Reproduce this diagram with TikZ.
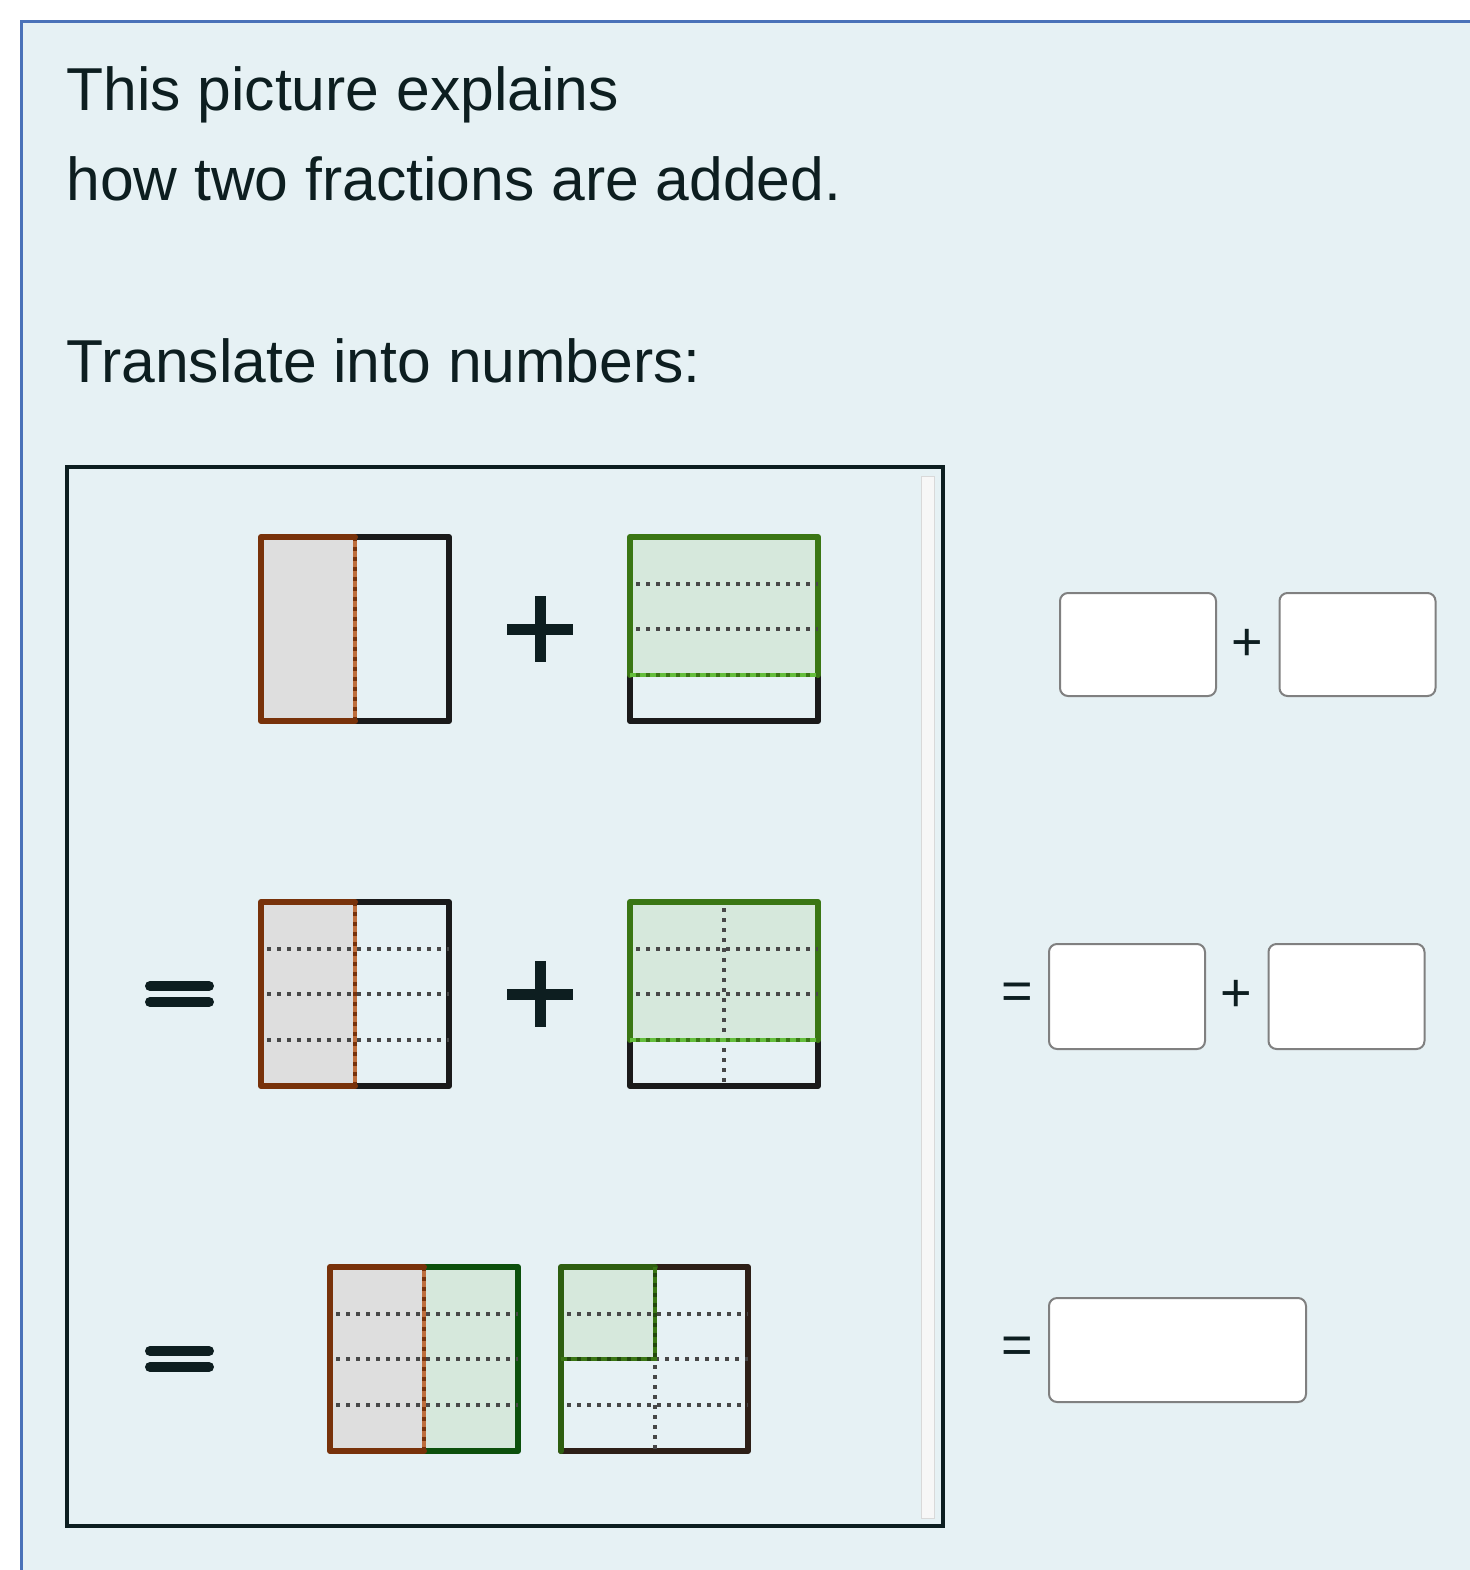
\documentclass[tikz,border=0pt]{standalone}
\usepackage{fontspec}
\setmainfont{Liberation Sans}
\definecolor{panel}{RGB}{230,241,244}
\definecolor{frameblue}{RGB}{74,114,184}
\definecolor{ink}{RGB}{13,30,32}
\definecolor{brownb}{RGB}{120,50,10}
\definecolor{brownl}{RGB}{190,110,60}
\definecolor{greenb}{RGB}{58,118,20}
\definecolor{greend}{RGB}{12,80,12}
\definecolor{greenl}{RGB}{100,190,60}
\definecolor{grayfill}{RGB}{222,222,222}
\definecolor{greenfill}{RGB}{214,232,220}
\definecolor{darkb}{RGB}{26,26,26}
\definecolor{boxgray}{RGB}{128,128,128}
\tikzset{
  edge/.style={line width=3pt, line join=round, line cap=round},
  dotline/.style={draw=black!72, line width=2pt, dash pattern=on 2pt off 3pt},
  plusbar/.style={line width=5.5pt, ink},
  eqbar/.style={line width=5pt, ink, line cap=round},
  answer/.style={draw=boxgray, line width=1pt, fill=white, rounded corners=4pt},
  txt/.style={font=\fontsize{30.3}{36}\selectfont, text=ink, inner sep=0pt, anchor=base west},
  small/.style={font=\fontsize{27}{30}\selectfont, text=ink, inner sep=0pt},
}
\begin{document}
\begin{tikzpicture}[x=0.5pt,y=-0.5pt]
\useasboundingbox (0,0) rectangle (1470,1570);
\fill[white] (0,0) rectangle (1470,1570);
\fill[panel] (21,21) rectangle (1470,1570);
\draw[frameblue, line width=1.5pt] (21,1570) -- (21,21) -- (1470,21);

% texts
\node[txt] (t1) at (66,110) {This picture explains};
\node[txt] (t2) at (66,200) {how two fractions are added.};
\node[txt] (t3) at (66,382) {Translate into numbers:};

% inner box
\fill[black!3] (921,476) rectangle (934,1518);
\draw[black!15, line width=0.5pt] (921,476) rectangle (934,1518);
\draw[ink, line width=2pt] (67,467) rectangle (943,1526);

% ===== Row 1 =====
\fill[grayfill] (261,537) rectangle (355,721);
\draw[edge, darkb] (355,537) -- (449,537) -- (449,721) -- (355,721);
\draw[edge, brownb] (355,537) -- (261,537) -- (261,721) -- (355,721);
\draw[brownl, line width=2pt] (355,537) -- (355,721);
\draw[dotline, draw=brownb] (355,537) -- (355,721);
\draw[plusbar] (507,629) -- (573,629);
\draw[plusbar] (540,596) -- (540,662);
\fill[greenfill] (630,537) rectangle (818,675);
\draw[edge, darkb] (630,675) -- (630,721) -- (818,721) -- (818,675);
\draw[edge, greenb] (630,675) -- (630,537) -- (818,537) -- (818,675);
\draw[dotline] (636,584) -- (818,584);
\draw[dotline] (636,629) -- (818,629);
\draw[greenl, line width=2pt] (630,675) -- (818,675);
\draw[dotline, draw=greenb] (636,675) -- (818,675);

% ===== Row 2 =====
\draw[eqbar] (150,986) -- (209,986);
\draw[eqbar] (150,1002) -- (209,1002);
\fill[grayfill] (261,902) rectangle (355,1086);
\draw[edge, darkb] (355,902) -- (449,902) -- (449,1086) -- (355,1086);
\draw[edge, brownb] (355,902) -- (261,902) -- (261,1086) -- (355,1086);
\draw[dotline] (267,949) -- (449,949);
\draw[dotline] (267,994) -- (449,994);
\draw[dotline] (267,1040) -- (449,1040);
\draw[brownl, line width=2pt] (355,902) -- (355,1086);
\draw[dotline, draw=brownb] (355,902) -- (355,1086);
\draw[plusbar] (507,994) -- (573,994);
\draw[plusbar] (540,961) -- (540,1027);
\fill[greenfill] (630,902) rectangle (818,1040);
\draw[edge, darkb] (630,1040) -- (630,1086) -- (818,1086) -- (818,1040);
\draw[edge, greenb] (630,1040) -- (630,902) -- (818,902) -- (818,1040);
\draw[dotline] (636,949) -- (818,949);
\draw[dotline] (636,994) -- (818,994);
\draw[dotline] (724,908) -- (724,1086);
\draw[greenl, line width=2pt] (630,1040) -- (818,1040);
\draw[dotline, draw=greenb] (636,1040) -- (818,1040);

% ===== Row 3 =====
\draw[eqbar] (150,1351) -- (209,1351);
\draw[eqbar] (150,1367) -- (209,1367);
\fill[grayfill] (330,1267) rectangle (424,1451);
\fill[greenfill] (424,1267) rectangle (518,1451);
\draw[edge, greend] (424,1267) -- (518,1267) -- (518,1451) -- (424,1451);
\draw[edge, brownb] (424,1267) -- (330,1267) -- (330,1451) -- (424,1451);
\draw[dotline] (336,1314) -- (518,1314);
\draw[dotline] (336,1359) -- (518,1359);
\draw[dotline] (336,1405) -- (518,1405);
\draw[brownl, line width=2pt] (424,1267) -- (424,1451);
\draw[dotline, draw=brownb] (424,1267) -- (424,1451);
\fill[greenfill] (561,1267) rectangle (655,1359);
\draw[edge, darkb!80!brownb] (655,1267) -- (748,1267) -- (748,1451) -- (561,1451);
\draw[edge, greenb!80!black] (655,1267) -- (561,1267) -- (561,1451);
\draw[dotline] (567,1314) -- (748,1314);
\draw[dotline] (655,1359) -- (748,1359);
\draw[dotline] (567,1405) -- (748,1405);
\draw[dotline] (655,1365) -- (655,1451);
\draw[greenb, line width=2pt] (561,1359) -- (655,1359) -- (655,1267);
\draw[dotline, draw=greenb!60!black] (567,1359) -- (655,1359);
\draw[dotline, draw=greenb!60!black] (655,1273) -- (655,1359);

% ===== answer boxes =====
\node[answer, minimum width=78pt, minimum height=51.5pt] (a1) at (1138,644.5) {};
\node[small] (p1) at (1247,645) {+};
\node[answer, minimum width=78pt, minimum height=51.5pt] (a2) at (1357.5,644.5) {};

\node[small] (e2) at (1017,996) {=};
\node[answer, minimum width=78pt, minimum height=52.5pt] (b1) at (1127,996.5) {};
\node[small] (p2) at (1236,996) {+};
\node[answer, minimum width=78pt, minimum height=52.5pt] (b2) at (1346.5,996.5) {};

\node[small] (e3) at (1017,1350) {=};
\node[answer, minimum width=128.5pt, minimum height=52pt] (c1) at (1177.5,1350) {};
\end{tikzpicture}
\end{document}
